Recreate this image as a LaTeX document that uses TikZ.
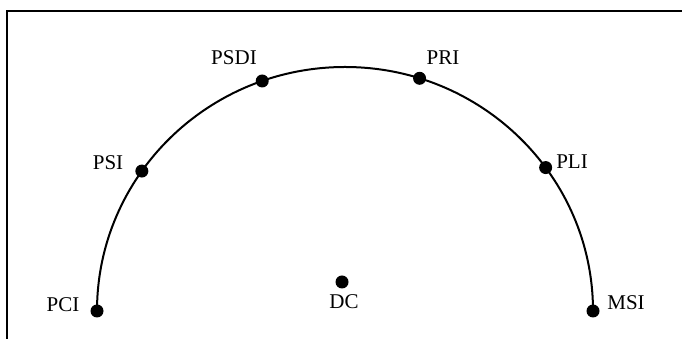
\documentclass[tikz,border=0pt]{standalone}
\usepackage{fontspec}
\setmainfont{Liberation Serif}
\begin{document}
\begin{tikzpicture}[x=1pt,y=1pt,
  dot/.style={circle,fill=black,inner sep=0pt,minimum size=13pt},
  lbl/.style={font=\fontsize{21}{22}\selectfont,inner sep=0pt},
  line/.style={line width=2.2pt},
  curve/.style={line width=2pt}]
\useasboundingbox (0,0) rectangle (682,339);
\coordinate (c) at (345,28);
% frame (top and left only)
\coordinate (fl) at (7,0);
\coordinate (ftl) at (7,328);
\coordinate (ftr) at (682,328);
\draw[line] (fl) -- (ftl) -- (ftr);
% arc
\draw[curve] ([shift={(c)}]180:248pt and 244pt) arc[start angle=180,end angle=0,x radius=248pt,y radius=244pt];
% dots
\node[dot] (pci)  at ([shift={(c)}]180:248pt and 244pt) {};
\node[dot] (psi)  at ([shift={(c)}]145:248pt and 244pt) {};
\node[dot] (psdi) at ([shift={(c)}]109.5:248pt and 244pt) {};
\node[dot] (pri)  at ([shift={(c)}]72.5:248pt and 244pt) {};
\node[dot] (pli)  at ([shift={(c)}]36:248pt and 244pt) {};
\node[dot] (msi)  at ([shift={(c)}]0:248pt and 244pt) {};
\node[dot] (dc)   at (342,57) {};
% labels
\node[lbl] (lpci)  at (63,34) {PCI};
\node[lbl] (lpsi)  at (108,176) {PSI};
\node[lbl] (lpsdi) at (234,281) {PSDI};
\node[lbl] (lpri)  at (443,281) {PRI};
\node[lbl] (lpli)  at (572,177) {PLI};
\node[lbl] (lmsi)  at (626,36) {MSI};
\node[lbl] (ldc)   at (344,37) {DC};
\end{tikzpicture}
\end{document}
